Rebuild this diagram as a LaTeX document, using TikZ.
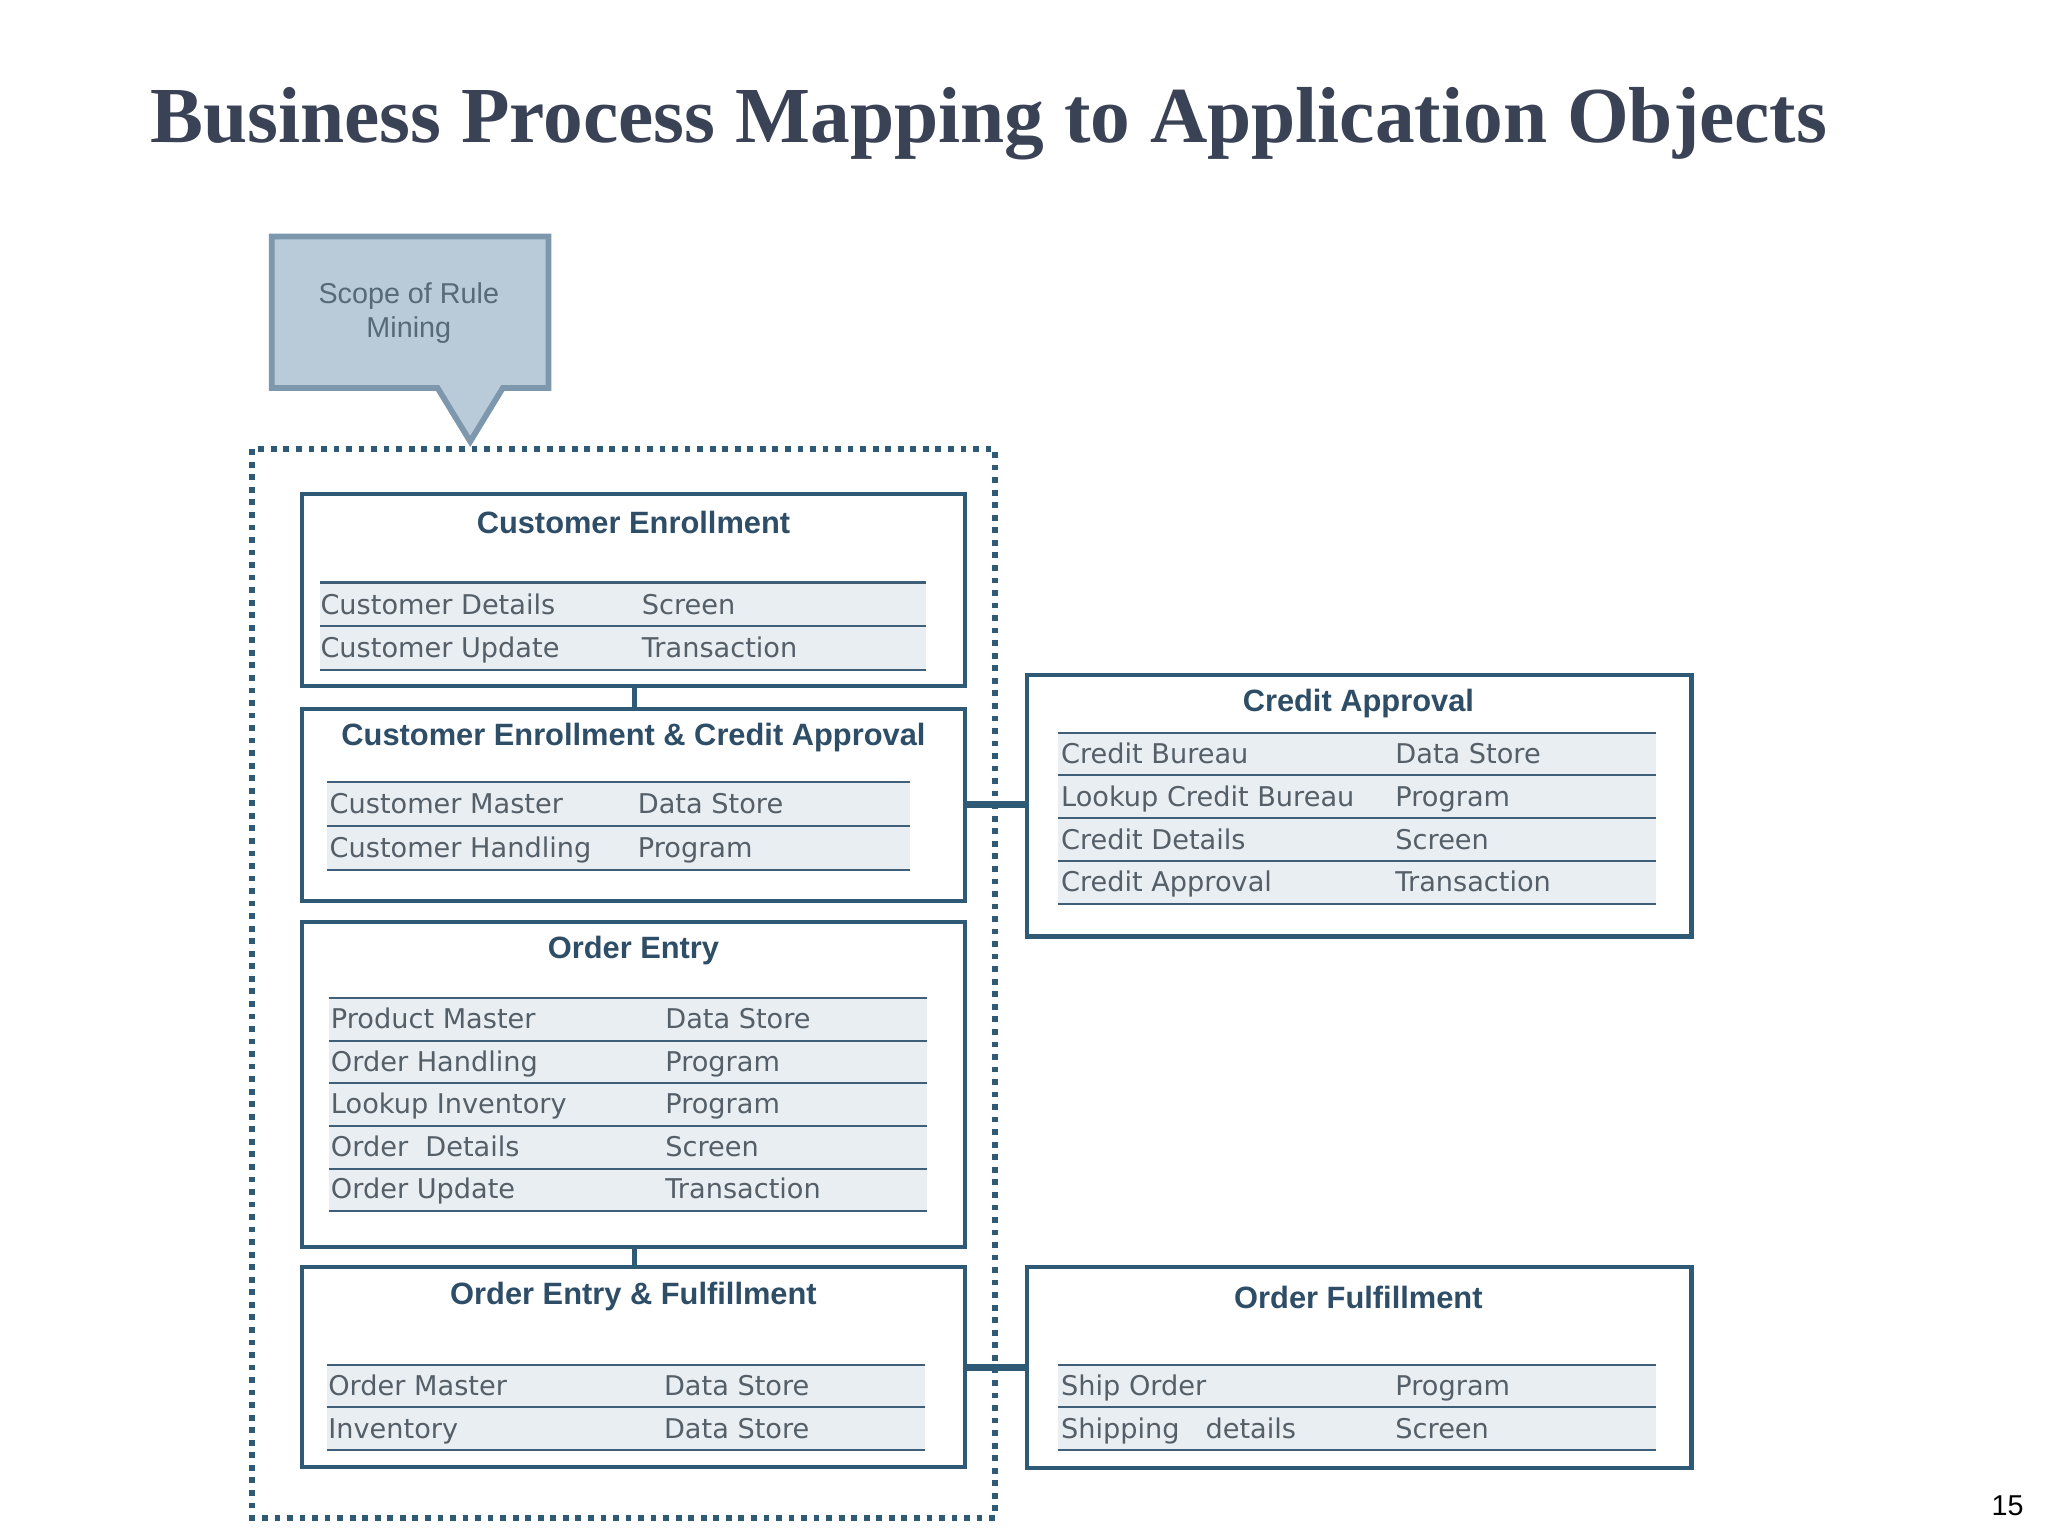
\documentclass[tikz,border=0pt]{standalone}
\usepackage{fontspec}
\setmainfont{Liberation Serif}
\newfontfamily\rowf{DejaVu Sans}
\newfontfamily\titf{Liberation Sans}
\definecolor{bord}{HTML}{2E5A75}
\definecolor{rowfill}{HTML}{E9EEF3}
\definecolor{rowline}{HTML}{3F5F78}
\definecolor{rowtext}{HTML}{555F68}
\definecolor{titc}{HTML}{2E4D66}
\definecolor{callfill}{HTML}{B9CAD8}
\definecolor{callbord}{HTML}{7D97AC}
\definecolor{maintit}{HTML}{3A4256}
\begin{document}
\begin{tikzpicture}[x=0.5pt,y=-0.5pt,
  pbox/.style={draw=bord,line width=1.6pt},
  btitle/.style={font=\titf\bfseries\fontsize{11.8}{13}\selectfont,text=titc},
  rtext/.style={font=\rowf\fontsize{10.4}{11}\selectfont,text=rowtext,anchor=west,inner sep=0pt,text height=7.5pt,text depth=2pt},
  conn/.style={draw=bord,line width=2pt}]
\useasboundingbox (0,0) rectangle (1568,1176);
\fill[white] (0,0) rectangle (1568,1176);
\node[font=\bfseries\fontsize{30.4}{34}\selectfont,text=maintit] (title) at (757,95) {Business Process Mapping to Application Objects};
% callout
\draw[fill=callfill,draw=callbord,line width=2.2pt] (208,181) -- (420,181) -- (420,297) -- (385,297) -- (360,338) -- (335,297) -- (208,297) -- cycle;
\node[align=center,font=\titf\fontsize{11}{13}\selectfont,text=black!30!callbord] (scope) at (313,240) {Scope of Rule\\Mining};
% dotted frame
\draw[bord,line width=2.2pt,dash pattern=on 2.2pt off 2.6pt] (193,344) rectangle (762,1162);
% rows macro
\newcommand{\rowset}[5]{% x1 x2 ystart step list
  \foreach \a/\b [count=\i] in {#5} {
    \pgfmathsetmacro{\yt}{#3+(\i-1)*#4}
    \pgfmathsetmacro{\yb}{#3+\i*#4}
    \fill[rowfill] (#1,\yt) rectangle (#2,\yb);
    \draw[rowline,line width=0.8pt] (#1,\yt) -- (#2,\yt);
    \draw[rowline,line width=0.8pt] (#1,\yb) -- (#2,\yb);
  }}
% Customer Enrollment
\draw[pbox] (231,378) rectangle (739,525); \node[btitle] (ce) at (485,400) {Customer Enrollment};
\rowset{245}{709}{446}{33.5}{a/b,c/d}
\node[rtext] at (245,465) {Customer Details}; \node[rtext] at (491,465) {Screen};
\node[rtext] at (245,498) {Customer Update}; \node[rtext] at (491,498) {Transaction};
% CE & CA
\draw[pbox] (231,543) rectangle (739,690); \node[btitle] (ceca) at (485,565) {Customer Enrollment \& Credit Approval};
\rowset{250}{697}{599}{33.5}{a/b,c/d}
\node[rtext] at (252,617) {Customer Master}; \node[rtext] at (488,617) {Data Store};
\node[rtext] at (252,651) {Customer Handling}; \node[rtext] at (488,651) {Program};
% Order Entry
\draw[pbox] (231,706) rectangle (739,955); \node[btitle] (oe) at (485,728) {Order Entry};
\rowset{252}{710}{764}{32.7}{a/b,c/d,e/f,g/h,i/j}
\node[rtext] at (253,782) {Product Master}; \node[rtext] at (509,782) {Data Store};
\node[rtext] at (253,815) {Order Handling}; \node[rtext] at (509,815) {Program};
\node[rtext] at (253,847) {Lookup Inventory}; \node[rtext] at (509,847) {Program};
\node[rtext] at (253,880) {Order\ \ Details}; \node[rtext] at (509,880) {Screen};
\node[rtext] at (253,912) {Order Update}; \node[rtext] at (509,912) {Transaction};
% OE & F
\draw[pbox] (231,970) rectangle (739,1123); \node[btitle] (oef) at (485,993) {Order Entry \& Fulfillment};
\rowset{250}{708}{1045}{32.5}{a/b,c/d}
\node[rtext] at (251,1063) {Order Master}; \node[rtext] at (508,1063) {Data Store};
\node[rtext] at (251,1096) {Inventory}; \node[rtext] at (508,1096) {Data Store};
% Credit Approval
\draw[pbox] (786,517) rectangle (1295,717); \node[btitle] (ca) at (1040,539) {Credit Approval};
\rowset{810}{1268}{561}{32.7}{a/b,c/d,e/f,g/h}
\node[rtext] at (812,579) {Credit Bureau}; \node[rtext] at (1068,579) {Data Store};
\node[rtext] at (812,612) {Lookup Credit Bureau}; \node[rtext] at (1068,612) {Program};
\node[rtext] at (812,645) {Credit Details}; \node[rtext] at (1068,645) {Screen};
\node[rtext] at (812,677) {Credit Approval}; \node[rtext] at (1068,677) {Transaction};
% Order Fulfillment
\draw[pbox] (786,970) rectangle (1295,1124); \node[btitle] (of) at (1040,993) {Order Fulfillment};
\rowset{810}{1268}{1045}{32.5}{a/b,c/d}
\node[rtext] at (812,1063) {Ship Order}; \node[rtext] at (1068,1063) {Program};
\node[rtext] at (812,1096) {Shipping\ \ \ details}; \node[rtext] at (1068,1096) {Screen};
% connectors
\coordinate (c1a) at (486,525); \coordinate (c1b) at (486,543);
\coordinate (c2a) at (486,955); \coordinate (c2b) at (486,970);
\coordinate (c3a) at (739,616); \coordinate (c3b) at (786,616);
\coordinate (c4a) at (739,1047); \coordinate (c4b) at (786,1047);
\draw[conn] (c1a) -- (c1b); \draw[conn] (c2a) -- (c2b);
\draw[conn,line width=2.4pt] (c3a) -- (c3b); \draw[conn,line width=2.4pt] (c4a) -- (c4b);
\node[font=\titf\fontsize{11}{13}\selectfont] (pg) at (1537,1153) {15};
\end{tikzpicture}
\end{document}
